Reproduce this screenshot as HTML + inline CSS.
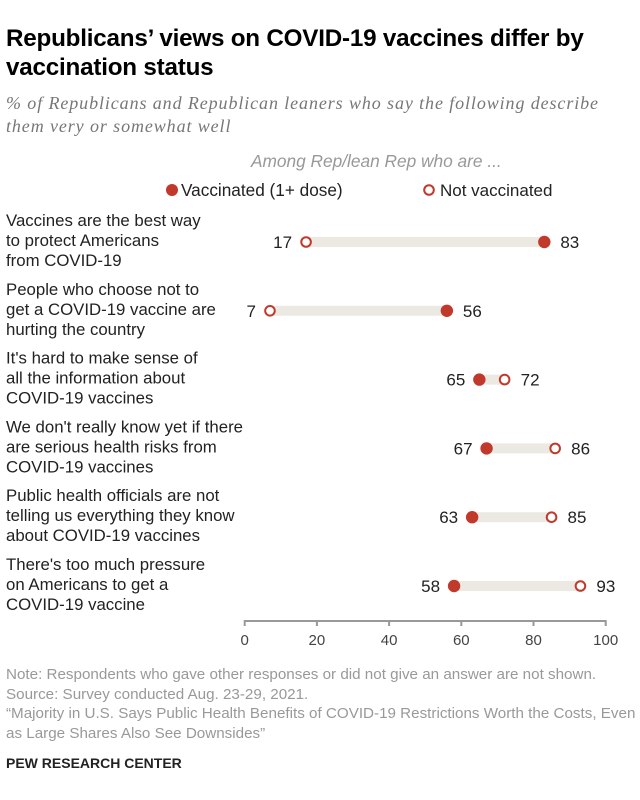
<!DOCTYPE html>
<html><head><meta charset="utf-8"><style>
body{margin:0;background:#fff;}
#c{position:relative;width:640px;height:800px;font-family:"Liberation Sans",sans-serif;overflow:hidden;}
.t{position:absolute;white-space:nowrap;}
</style></head><body>
<div id="c">
<div class="t" style="left:6px;top:24px;font-size:24.2px;font-weight:bold;line-height:29px;color:#000;letter-spacing:-0.2px">Republicans’ views on COVID-19 vaccines differ by<br>vaccination status</div>
<div class="t" style="left:6px;top:92px;font-size:18px;font-style:italic;line-height:23px;color:#777;letter-spacing:0.9px;font-family:'Liberation Serif',serif">% of Republicans and Republican leaners who say the following describe<br>them very or somewhat well</div>
<div class="t" style="left:251px;top:151px;font-size:17.3px;font-style:italic;color:#999">Among Rep/lean Rep who are ...</div>
<svg id="s" width="640" height="800" style="position:absolute;left:0;top:0"></svg>
<div class="t" style="left:6px;top:665px;font-size:15.2px;line-height:19.5px;color:#999">Note: Respondents who gave other responses or did not give an answer are not shown.<br>Source: Survey conducted Aug. 23-29, 2021.<br>“Majority in U.S. Says Public Health Benefits of COVID-19 Restrictions Worth the Costs, Even<br>as Large Shares Also See Downsides”</div>
<div class="t" style="left:6px;top:755px;font-size:14px;font-weight:bold;color:#222">PEW RESEARCH CENTER</div>
</div>
<script>
const categories=[
["Vaccines are the best way","to protect Americans","from COVID-19"],
["People who choose not to","get a COVID-19 vaccine are","hurting the country"],
["It's hard to make sense of","all the information about","COVID-19 vaccines"],
["We don't really know yet if there","are serious health risks from","COVID-19 vaccines"],
["Public health officials are not","telling us everything they know","about COVID-19 vaccines"],
["There's too much pressure","on Americans to get a","COVID-19 vaccine"]];
const vaccinated=[83,56,65,67,63,58];
const notVaccinated=[17,7,72,86,85,93];
const ticks=[0,20,40,60,80,100];
const NS='http://www.w3.org/2000/svg';
const svg=document.getElementById('s');
const x=v=>244.7+v*3.61;
const rowY=i=>242+i*68.8;
const red='#c0392b';
function mk(tag,attrs){const e=document.createElementNS(NS,tag);for(const k in attrs)e.setAttribute(k,attrs[k]);svg.appendChild(e);return e;}
function txt(s,xx,yy,anchor,size,col){const e=mk('text',{x:xx,y:yy,'text-anchor':anchor,'font-size':size,fill:col,'font-family':'Liberation Sans, sans-serif'});e.textContent=s;return e;}
let e=mk('circle',{cx:172,cy:190,r:6,fill:red});

e=txt('Vaccinated (1+ dose)',181,196,'start',17.2,'#222');

e=mk('circle',{cx:429,cy:190,r:4.8,fill:'#fff',stroke:red,'stroke-width':2});

e=txt('Not vaccinated',440,196,'start',17,'#222');

categories.forEach((lines,i)=>{
 const y=rowY(i);
 lines.forEach((l,j)=>{const t=txt(l,6,y-16+j*20,'start',16.8,'#222');
  });
 const a=vaccinated[i],b=notVaccinated[i];
 const lo=Math.min(a,b),hi=Math.max(a,b);
 let r=mk('rect',{x:x(lo),y:y-5,width:x(hi)-x(lo),height:10,fill:'#ece9e3'});
 
 let c=mk('circle',{cx:x(a),cy:y,r:6.2,fill:red});
 
 c=mk('circle',{cx:x(b),cy:y,r:4.8,fill:'#fff',stroke:red,'stroke-width':2});
 
 const la=a<b?[x(a)-14,'end']:[x(a)+16,'start'];
 const lb=b<a?[x(b)-14,'end']:[x(b)+16,'start'];
 let t=txt(String(a),la[0],y+6,la[1],17,'#222');
 
 t=txt(String(b),lb[0],y+6,lb[1],17,'#222');
 
});
let ax=mk('line',{x1:x(0),x2:x(100),y1:621,y2:621,stroke:'#999','stroke-width':2});

ticks.forEach(v=>{
 let l=mk('line',{x1:x(v),x2:x(v),y1:620,y2:626,stroke:'#999','stroke-width':2});
 
 let t=txt(String(v),x(v),645,'middle',15,'#444');
 
});
</script>
</body></html>
